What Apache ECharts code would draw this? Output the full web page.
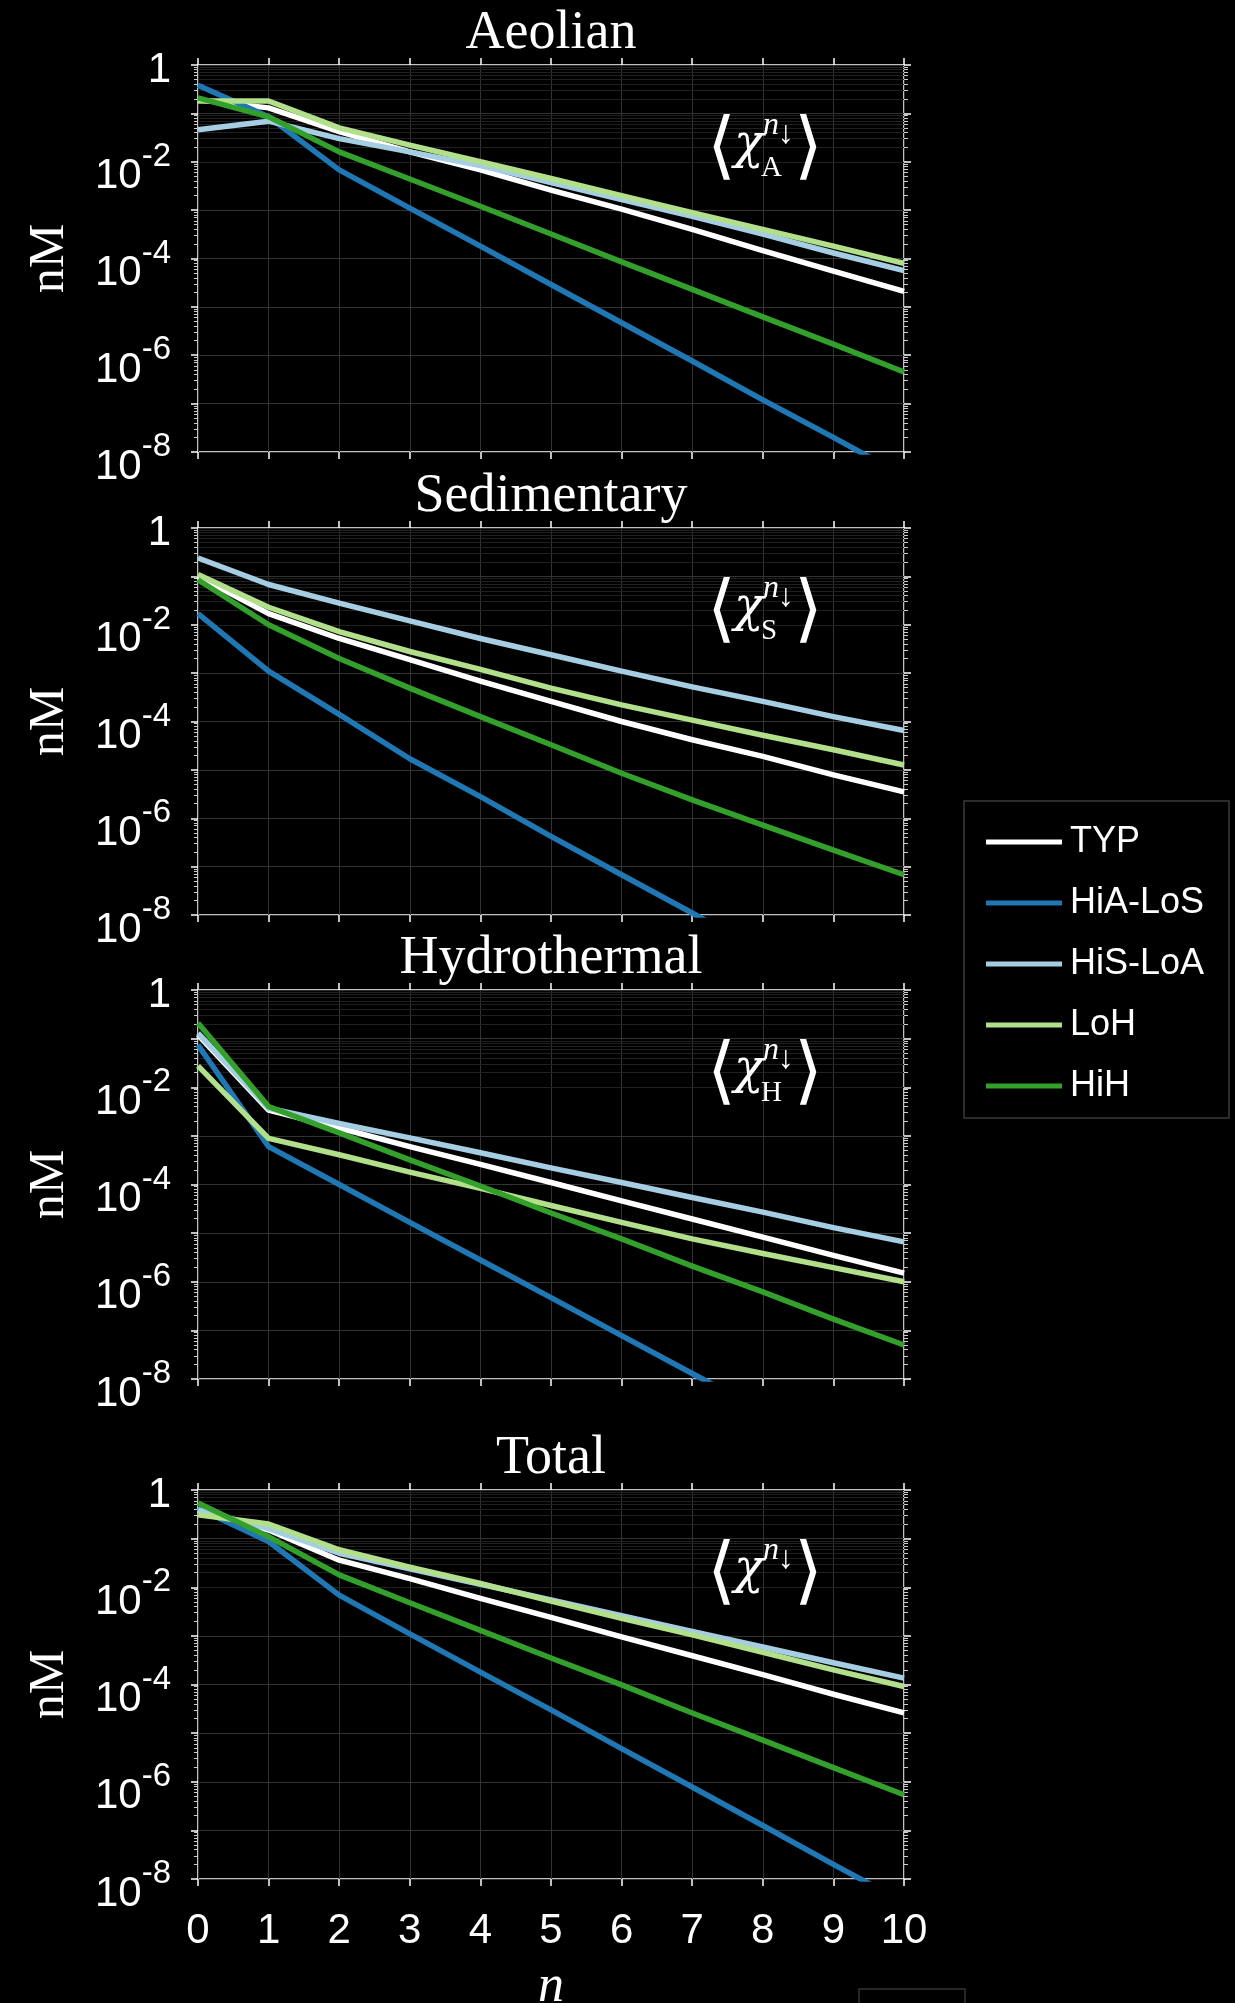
<!DOCTYPE html>
<html>
<head>
<meta charset="utf-8">
<script src="https://cdn.jsdelivr.net/npm/echarts@6/dist/echarts.min.js"></script>
<style>
html,body{margin:0;padding:0;background:#000;}
#c{width:1235px;height:2003px;}
</style>
</head>
<body>
<div id="c"></div>
<script>
// ---------- data ----------
const nValues = [0, 1, 2, 3, 4, 5, 6, 7, 8, 9, 10];
const seriesNames = ['TYP', 'HiA-LoS', 'HiS-LoA', 'LoH', 'HiH'];
const seriesColors = ['#ffffff', '#1f78b4', '#a6cee3', '#b2df8a', '#33a02c'];
const panelTitles = ['Aeolian', 'Sedimentary', 'Hydrothermal', 'Total'];
const panelSubscripts = ['A', 'S', 'H', ''];
const xTickLabels = ['0', '1', '2', '3', '4', '5', '6', '7', '8', '9', '10'];
const yLabelExponents = [0, -2, -4, -6, -8];

// Aeolian
const aeolianTYP  = [0.19, 0.13, 4.2e-2, 1.6e-2, 6.8e-3, 2.6e-3, 1.05e-3, 4.0e-4, 1.45e-4, 5.5e-5, 2.1e-5];
const aeolianHiA  = [0.38, 8.5e-2, 6.8e-3, 1.1e-3, 1.8e-4, 2.9e-5, 4.7e-6, 7.6e-7, 1.2e-7, 2.0e-8, 3.2e-9];
const aeolianHiS  = [4.6e-2, 6.9e-2, 3.0e-2, 1.6e-2, 8.3e-3, 3.7e-3, 1.66e-3, 7.4e-4, 3.2e-4, 1.3e-4, 5.6e-5];
const aeolianLoH  = [0.18, 0.18, 5.0e-2, 2.2e-2, 1.0e-2, 4.5e-3, 2.0e-3, 8.9e-4, 4.0e-4, 1.8e-4, 7.9e-5];
const aeolianHiH  = [0.21, 8.5e-2, 1.6e-2, 4.4e-3, 1.2e-3, 3.2e-4, 8.5e-5, 2.3e-5, 6.2e-6, 1.7e-6, 4.5e-7];
// Sedimentary
const sedTYP = [0.1, 1.7e-2, 5.2e-3, 1.9e-3, 6.8e-4, 2.6e-4, 1.0e-4, 4.2e-5, 1.9e-5, 7.9e-6, 3.5e-6];
const sedHiA = [1.7e-2, 1.1e-3, 1.4e-4, 1.7e-5, 2.8e-6, 4.2e-7, 6.8e-8, 1.1e-8, 1.7e-9, 2.8e-10, 5e-11];
const sedHiS = [0.24, 6.8e-2, 2.8e-2, 1.2e-2, 5.2e-3, 2.4e-3, 1.1e-3, 5.2e-4, 2.6e-4, 1.26e-4, 6.5e-5];
const sedLoH = [0.11, 2.3e-2, 7.2e-3, 2.8e-3, 1.2e-3, 4.9e-4, 2.2e-4, 1.07e-4, 5.2e-5, 2.6e-5, 1.26e-5];
const sedHiH = [8.5e-2, 1.0e-2, 2.0e-3, 4.9e-4, 1.26e-4, 3.3e-5, 8.5e-6, 2.4e-6, 7.2e-7, 2.2e-7, 6.8e-8];
// Hydrothermal
const hydTYP = [0.12, 3.4e-3, 1.45e-3, 6.0e-4, 2.6e-4, 1.1e-4, 4.6e-5, 1.95e-5, 8.3e-6, 3.5e-6, 1.5e-6];
const hydHiA = [7.4e-2, 6.0e-4, 1.0e-4, 1.66e-5, 2.8e-6, 4.7e-7, 7.8e-8, 1.3e-8, 2.2e-9, 3.6e-10, 6e-11];
const hydHiS = [0.13, 3.7e-3, 1.8e-3, 9.1e-4, 4.5e-4, 2.2e-4, 1.1e-4, 5.4e-5, 2.7e-5, 1.3e-5, 6.6e-6];
const hydLoH = [2.75e-2, 8.9e-4, 4.1e-4, 1.8e-4, 8.3e-5, 3.7e-5, 1.66e-5, 7.6e-6, 3.8e-6, 1.95e-6, 1.0e-6];
const hydHiH = [0.21, 4.0e-3, 1.15e-3, 3.2e-4, 9.3e-5, 2.6e-5, 7.6e-6, 2.1e-6, 6.2e-7, 1.7e-7, 5.0e-8];
// Total
const totTYP = [0.39, 0.15, 3.6e-2, 1.5e-2, 5.9e-3, 2.4e-3, 9.5e-4, 3.9e-4, 1.6e-4, 6.3e-5, 2.6e-5];
const totHiA = [0.42, 8.7e-2, 6.9e-3, 1.1e-3, 1.8e-4, 3.0e-5, 4.8e-6, 7.8e-7, 1.26e-7, 2.0e-8, 3.3e-9];
const totHiS = [0.39, 0.16, 5.0e-2, 2.4e-2, 1.15e-2, 5.5e-3, 2.6e-3, 1.23e-3, 5.9e-4, 2.8e-4, 1.35e-4];
const totLoH = [0.31, 0.2, 5.9e-2, 2.6e-2, 1.2e-2, 5.2e-3, 2.3e-3, 1.05e-3, 4.6e-4, 2.0e-4, 9.1e-5];
const totHiH = [0.54, 0.11, 1.8e-2, 4.8e-3, 1.3e-3, 3.5e-4, 9.8e-5, 2.6e-5, 7.2e-6, 1.95e-6, 5.4e-7];

const panelSeries = [
  [aeolianTYP, aeolianHiA, aeolianHiS, aeolianLoH, aeolianHiH],
  [sedTYP, sedHiA, sedHiS, sedLoH, sedHiH],
  [hydTYP, hydHiA, hydHiS, hydLoH, hydHiH],
  [totTYP, totHiA, totHiS, totLoH, totHiH]
];

// ---------- layout / style ----------
const plotLeft = 198, plotWidth = 706;
const panelTops = [65, 528, 990, 1490];
const panelHeights = [387, 387, 389, 389];
const sansFont = '"Liberation Sans", Arial, Helvetica, sans-serif';
const serifFont = '"Liberation Serif", "Times New Roman", serif';
const majorGridColor = '#333333';
const minorGridColor = '#202020';

// minor log positions (2..9 x 10^e)
const minorValues = [];
for (let e = -8; e < 0; e++) {
  for (let k = 2; k <= 9; k++) minorValues.push(k * Math.pow(10, e));
}

function yLabel(v) {
  const e = Math.round(Math.log10(v));
  if (e === 0) return '{one|1}';
  if (e % 2 !== 0) return '';
  return '{b|10}{s|' + e + '}';
}

const grids = [], xAxes = [], yAxes = [], series = [], titles = [], graphics = [];

panelTops.forEach((top, i) => {
  const h = panelHeights[i];
  grids.push({left: plotLeft, top: top, width: plotWidth, height: h, show: true,
    containLabel: false, outerBoundsMode: 'none',
    borderColor: '#ffffff', borderWidth: 1.5, backgroundColor: 'transparent'});
  const isLast = i === panelTops.length - 1;

  const xBottomIdx = xAxes.length;
  xAxes.push({
    type: 'value', gridIndex: i, min: 0, max: 10, interval: 1, position: 'bottom',
    axisLine: {show: false, onZero: false},
    axisTick: {show: true, inside: false, length: 7, lineStyle: {color: '#ffffff', width: 1.5}},
    axisLabel: {show: isLast, margin: 31, color: '#ffffff', fontSize: 42, fontFamily: sansFont,
      formatter: v => xTickLabels[Math.round(v)]},
    splitLine: {show: true, lineStyle: {color: majorGridColor, width: 1}},
    name: isLast ? 'n' : '', nameLocation: 'middle', nameGap: 82,
    nameTextStyle: {color: '#ffffff', fontFamily: serifFont, fontStyle: 'italic', fontSize: 52}
  });
  xAxes.push({
    type: 'value', gridIndex: i, min: 0, max: 10, interval: 1, position: 'top',
    axisLine: {show: false, onZero: false},
    axisTick: {show: true, inside: false, length: 7, lineStyle: {color: '#ffffff', width: 1.5}},
    axisLabel: {show: false}, splitLine: {show: false}
  });

  const yLeftIdx = yAxes.length;
  yAxes.push({
    type: 'log', logBase: 10, gridIndex: i, min: 1e-8, max: 1, splitNumber: 8, position: 'left',
    axisLine: {show: false, onZero: false},
    axisTick: {show: true, inside: false, length: 7, lineStyle: {color: '#ffffff', width: 1.5}},
    axisLabel: {show: true, margin: 27, color: '#ffffff', formatter: yLabel, padding: [14.5, 0, 0, 0],
      rich: {
        b: {fontSize: 42, fontFamily: sansFont, color: '#ffffff', verticalAlign: 'top', padding: [15.5, 0, 0, 0]},
        s: {fontSize: 33, fontFamily: sansFont, color: '#ffffff', verticalAlign: 'top'},
        one: {fontSize: 42, fontFamily: sansFont, color: '#ffffff', verticalAlign: 'top', padding: [0, 0, 4.5, 0]}
      }},
    splitLine: {show: true, lineStyle: {color: majorGridColor, width: 1}},
    name: 'nM', nameLocation: 'middle', nameRotate: 90, nameGap: 123,
    nameTextStyle: {color: '#ffffff', fontFamily: serifFont, fontSize: 50}
  });
  yAxes.push({
    type: 'log', logBase: 10, gridIndex: i, min: 1e-8, max: 1, splitNumber: 8, position: 'right',
    axisLine: {show: false, onZero: false},
    axisTick: {show: true, inside: false, length: 7, lineStyle: {color: '#ffffff', width: 1.5}},
    axisLabel: {show: false}, splitLine: {show: false}
  });
  // minor ticks (left / right)
  ['left', 'right'].forEach(pos => {
    yAxes.push({
      type: 'log', logBase: 10, gridIndex: i, min: 1e-8, max: 1, splitNumber: 8, position: pos,
      axisLine: {show: false, onZero: false},
      axisTick: {show: true, inside: false, length: 4, customValues: minorValues,
        lineStyle: {color: '#cccccc', width: 1}},
      axisLabel: {show: false}, splitLine: {show: false}
    });
  });

  // minor grid lines (drawn underneath the data)
  series.push({
    type: 'line', name: 'minor-grid-' + i, xAxisIndex: xBottomIdx, yAxisIndex: yLeftIdx,
    data: [], z: 1, silent: true,
    markLine: {silent: true, z: 1, symbol: ['none', 'none'], animation: false, label: {show: false},
      lineStyle: {color: minorGridColor, width: 1, type: 'solid'},
      data: minorValues.map(v => ({yAxis: v}))}
  });

  panelSeries[i].forEach((vals, s) => {
    series.push({
      type: 'line', name: seriesNames[s], xAxisIndex: xBottomIdx, yAxisIndex: yLeftIdx,
      data: nValues.map((n, k) => [n, vals[k]]),
      showSymbol: false, symbol: 'none', clip: true, z: 10 + s,
      lineStyle: {color: seriesColors[s], width: 5.5, join: 'round'},
      itemStyle: {color: seriesColors[s]}
    });
  });

  titles.push({
    text: panelTitles[i], left: plotLeft + plotWidth / 2, top: top - 58, textAlign: 'center', padding: 0,
    textStyle: {color: '#ffffff', fontFamily: serifFont, fontSize: 54, fontWeight: 'normal'}
  });

  // <chi_X^{n down}> annotation
  const cy = top + 86;
  const txt = (x, y, text, font) => ({
    type: 'text', x: x, y: y, silent: true, z: 50,
    style: {text: text, fill: '#ffffff', font: font, align: 'left', verticalAlign: 'middle',
      textAlign: 'left', textVerticalAlign: 'middle'}
  });
  graphics.push(txt(707, cy, '\u27E8', '74px "DejaVu Sans"'));
  graphics.push(txt(734, cy - 6, '\u03C7', 'italic 49px "DejaVu Serif"'));
  graphics.push(txt(763, cy - 25, 'n', 'italic 32px "Liberation Serif"'));
  graphics.push(txt(778, cy - 16, '\u2193', '32px "Liberation Serif"'));
  if (panelSubscripts[i]) graphics.push(txt(761, cy + 17, panelSubscripts[i], '29px "Liberation Serif"'));
  graphics.push(txt(794, cy, '\u27E9', '74px "DejaVu Sans"'));
});

graphics.push({type: 'rect', shape: {x: 859, y: 1989, width: 106, height: 30}, silent: true,
  style: {fill: 'none', stroke: '#333333', lineWidth: 1.5}});

const option = {
  backgroundColor: '#000000',
  animation: false,
  title: titles,
  grid: grids,
  xAxis: xAxes,
  yAxis: yAxes,
  series: series,
  graphic: graphics,
  legend: {
    data: seriesNames, orient: 'vertical', left: 964, top: 801,
    padding: [23, 25, 14, 22], itemWidth: 76, itemHeight: 5, itemGap: 25, icon: 'rect',
    selectedMode: false, borderColor: '#3a3a3a', borderWidth: 1.5, backgroundColor: '#000000',
    textStyle: {color: '#ffffff', fontSize: 36, fontFamily: sansFont, padding: [0, 0, 0, 3]}
  }
};

const chart = echarts.init(document.getElementById('c'), null, {renderer: 'canvas', width: 1235, height: 2003});
chart.setOption(option);
</script>
</body>
</html>
